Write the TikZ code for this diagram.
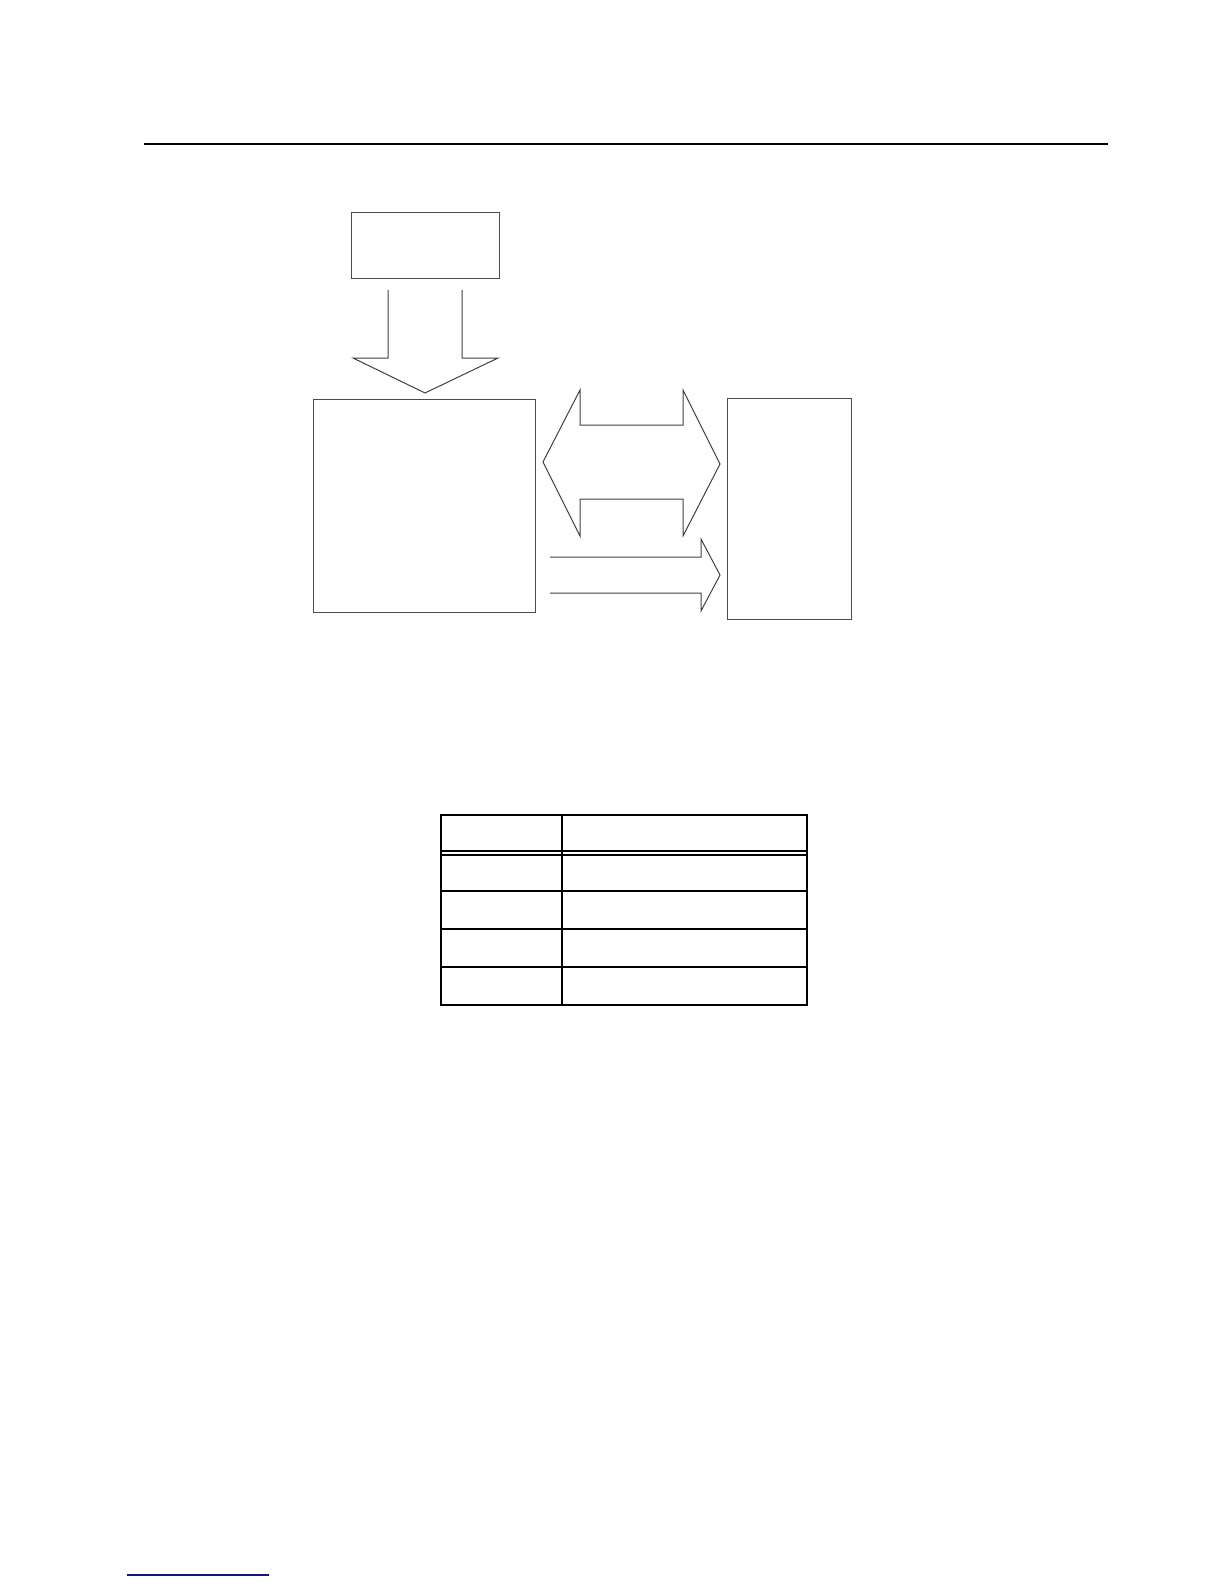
\documentclass[tikz,border=0pt]{standalone}
\usetikzlibrary{positioning}
\begin{document}
\begin{tikzpicture}[x=1pt,y=-1pt,
  blockbox/.style={draw=black!70,line width=1pt,inner sep=0pt,outer sep=0pt},
  blockarrow/.style={draw=black!75,line width=1pt,line join=miter},
  tableline/.style={draw=black,line width=1.25pt},
  rulethick/.style={draw=black,line width=2pt}]
\useasboundingbox (0,0) rectangle (1224,1584);
% page rule
\draw[rulethick] (144,144) -- (1108,144);
% boxes
\node[blockbox,minimum width=148pt,minimum height=66pt] (top) at (425,245) {};
\node[blockbox,minimum width=222pt,minimum height=213pt] (main) at (424,505.5) {};
\node[blockbox,minimum width=124pt,minimum height=221pt] (right) at (789,508.5) {};
% down block arrow
\draw[blockarrow] (388,290) -- (388,358) -- (353,358) -- (425,393) -- (498,358) -- (462,358) -- (462,290);
% double block arrow
\draw[blockarrow] (543,462) -- (580,390) -- (580,425) -- (683,425) -- (683,390) -- (720,464)
  -- (683,536) -- (683,499) -- (580,499) -- (580,536) -- cycle;
% single block arrow
\draw[blockarrow] (550,557) -- (701,557) -- (701,539) -- (720,575) -- (701,611) -- (701,593) -- (550,593);
% table
\draw[tableline] (441,815) rectangle (807,1005);
\draw[tableline] (562,815) -- (562,1005);
\foreach \yy in {851,855,891,929,967} \draw[tableline] (441,\yy) -- (807,\yy);
% footnote rule
\draw[draw={rgb,255:red,20;green,20;blue,120},line width=1.2pt] (127,1575) -- (269,1575);
\end{tikzpicture}
\end{document}
